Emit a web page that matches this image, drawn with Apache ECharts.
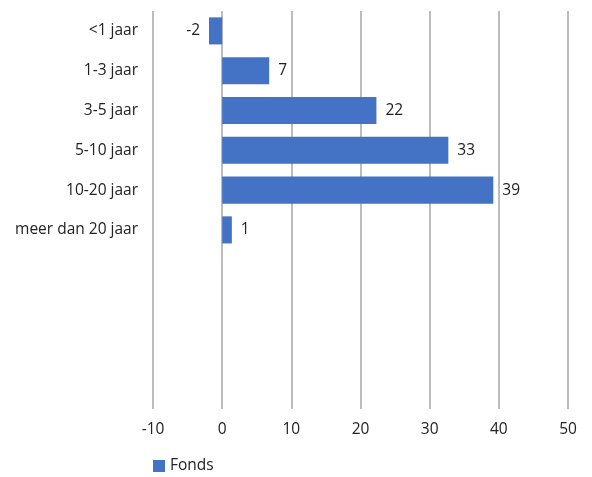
<!DOCTYPE html>
<html><head><meta charset="utf-8">
<script src="https://cdn.jsdelivr.net/npm/echarts@6/dist/echarts.min.js"></script>
<style>html,body{margin:0;padding:0;background:#fff}#c{width:592px;height:477px}</style>
</head><body><div id="c"></div>
<script>
const categories = ['<1 jaar', '1-3 jaar', '3-5 jaar', '5-10 jaar', '10-20 jaar', 'meer dan 20 jaar'];
const fondsValues = [-1.9, 6.8, 22.3, 32.7, 39.2, 1.4];
const xTicks = [-10, 0, 10, 20, 30, 40, 50];
const seriesName = 'Fonds';

const FONT = '"Open Sans", "Noto Sans", sans-serif';
const FS = 15.5;
const chart = echarts.init(document.getElementById('c'));
chart.setOption({
  animation: false,
  grid: { left: 153, right: 24, top: 11, bottom: 68 },
  legend: {
    left: 148, bottom: -2, itemWidth: 12, itemHeight: 12, itemGap: 8,
    icon: 'rect',
    textStyle: { fontFamily: FONT, fontSize: FS, color: '#222' },
    data: [seriesName]
  },
  xAxis: {
    type: 'value', min: xTicks[0], max: xTicks[xTicks.length - 1], interval: 10,
    axisLine: { show: false }, axisTick: { show: false },
    axisLabel: { fontFamily: FONT, fontSize: FS, color: '#222', margin: 13 },
    splitLine: { show: true, lineStyle: { color: '#a6a6a6', width: 1.5 } }
  },
  yAxis: {
    type: 'category', data: categories, inverse: true, min: 0, max: 9,
    axisLine: { show: false }, axisTick: { show: false },
    axisLabel: { fontFamily: FONT, fontSize: FS, color: '#222', margin: 15 },
    splitLine: { show: false }
  },
  series: [{
    name: seriesName, type: 'bar', barCategoryGap: '32%',
    itemStyle: { color: '#4472c4' },
    label: {
      show: true, position: 'right', distance: 9,
      fontFamily: FONT, fontSize: FS, color: '#222',
      formatter: p => String(Math.round(p.value))
    },
    data: fondsValues.map(v => v < 0 ? { value: v, label: { position: 'left' } } : v)
  }]
});
</script></body></html>
